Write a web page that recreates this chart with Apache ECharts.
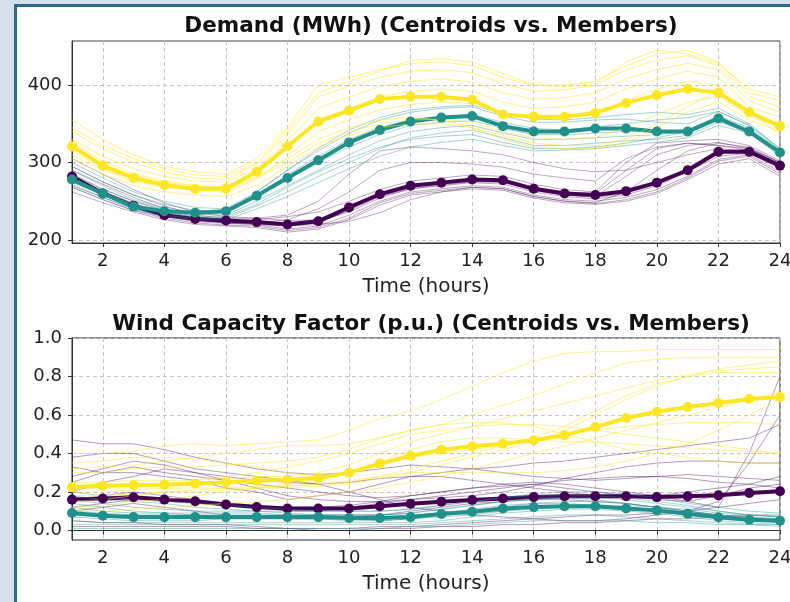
<!DOCTYPE html>
<html>
<head>
<meta charset="utf-8">
<script src="https://cdn.jsdelivr.net/npm/echarts@6/dist/echarts.min.js"></script>
<style>
  html, body { margin: 0; padding: 0; background: #d5e1ea; overflow: hidden; }
  #frame { position: absolute; left: 14px; top: 4px; width: 820px; height: 640px;
           background: #ffffff; border-left: 3px solid #2c6b82; border-top: 3px solid #2c6b82; }
  #main { position: absolute; left: 0; top: 0; width: 790px; height: 602px; }
</style>
</head>
<body>
<div id="frame"></div>
<div id="main"></div>
<script>
const hours = [1,2,3,4,5,6,7,8,9,10,11,12,13,14,15,16,17,18,19,20,21,22,23,24];
const xTicks = [2,4,6,8,10,12,14,16,18,20,22,24];
const demandTicks = [200,300,400];
const windTicks = [0,0.2,0.4,0.6,0.8,1.0];

// centroids
const demandPurple = [282,260,244,232,227,225,223,220,224,242,259,270,274,278,277,266,260,258,263,274,290,314,314,296];
const demandTeal   = [278,260,243,237,235,237,257,280,303,326,342,353,358,360,347,340,340,344,344,340,340,357,340,313];
const demandYellow = [321,296,280,271,266,266,288,321,353,367,382,385,385,381,362,359,359,364,377,387,395,390,365,347];

const windPurple = [0.16,0.166,0.172,0.16,0.151,0.135,0.121,0.114,0.114,0.114,0.125,0.139,0.149,0.158,0.166,0.173,0.177,0.177,0.177,0.173,0.177,0.182,0.194,0.203];
const windTeal   = [0.09,0.076,0.069,0.069,0.069,0.069,0.069,0.069,0.069,0.064,0.064,0.069,0.085,0.097,0.114,0.121,0.125,0.125,0.114,0.104,0.087,0.068,0.055,0.05];
const windYellow = [0.225,0.232,0.236,0.237,0.243,0.25,0.258,0.263,0.272,0.30,0.347,0.388,0.419,0.437,0.45,0.468,0.494,0.537,0.584,0.617,0.641,0.662,0.683,0.693];

// members
const demandPurpleMembers = [
  [305,285,265,248,236,230,228,225,226,240,258,268,272,276,275,265,258,255,260,272,290,312,318,300],
  [290,272,255,240,230,226,224,218,222,238,256,266,270,274,272,262,256,253,258,270,288,308,312,292],
  [275,258,242,232,226,222,220,214,218,232,250,262,266,270,268,258,252,250,255,265,282,304,310,288],
  [262,248,236,226,220,218,216,210,214,226,245,258,262,266,264,254,248,246,250,260,278,298,305,282],
  [285,265,250,238,228,224,226,230,236,250,265,276,280,284,282,272,265,262,300,325,328,330,322,302],
  [280,262,246,234,226,222,222,226,240,262,290,300,300,298,294,285,280,276,305,320,325,322,316,298],
  [270,255,240,230,224,221,220,218,220,224,235,252,262,268,266,256,250,248,262,290,315,325,320,300],
  [295,275,258,244,232,228,228,232,250,285,315,320,318,315,310,300,292,288,290,300,310,318,315,298],
  [268,252,238,228,222,219,218,212,216,228,248,260,264,268,266,256,250,247,252,262,280,302,308,285],
  [283,263,247,235,227,223,222,222,226,240,258,270,275,279,278,268,262,260,290,318,325,322,318,300],
  [278,260,245,233,226,222,221,220,224,236,254,266,271,275,274,264,258,256,282,310,322,326,318,296]
];
const demandTealMembers = [
  [300,280,262,250,242,240,262,290,315,338,355,365,370,372,360,352,352,355,356,352,350,366,348,316],
  [290,270,252,242,236,234,256,278,300,320,336,348,352,354,344,336,336,338,340,340,342,360,345,314],
  [280,262,246,238,233,232,250,270,290,310,328,340,345,348,338,330,330,332,334,336,340,356,342,312],
  [272,255,240,232,228,228,244,262,282,300,318,332,338,342,332,322,322,325,328,330,335,352,340,310],
  [285,266,250,240,235,236,262,290,318,342,358,368,372,374,364,356,355,358,362,365,362,370,350,318],
  [275,258,244,235,230,230,246,268,288,305,320,330,334,336,326,318,318,320,325,332,340,355,342,312],
  [295,275,258,246,238,238,258,284,308,330,345,355,360,362,352,344,342,346,350,355,358,366,348,318],
  [268,252,238,230,226,226,240,256,274,292,308,320,326,330,322,315,316,318,322,326,332,348,338,308]
];
const demandYellowMembers = [
  [355,330,310,295,288,285,305,345,400,410,420,428,430,425,410,400,400,405,425,440,445,430,390,380],
  [340,318,300,288,280,278,298,335,385,398,410,418,420,416,402,392,394,400,420,432,438,425,385,372],
  [330,308,292,282,276,275,292,328,370,385,398,405,408,404,390,382,384,390,408,420,428,420,380,365],
  [320,298,284,274,270,268,285,318,355,370,385,392,395,392,378,370,372,378,395,408,418,410,372,358],
  [310,290,276,268,264,262,278,308,340,355,368,375,378,376,364,356,358,364,380,395,405,400,362,350],
  [315,292,278,270,266,265,280,300,325,340,350,355,356,352,340,332,330,332,345,362,378,385,360,345],
  [325,302,286,276,270,268,282,305,330,345,355,358,355,345,330,320,318,318,325,345,365,378,355,340],
  [305,285,270,262,258,256,270,295,320,335,345,350,350,345,335,325,322,322,330,350,372,392,368,335],
  [345,322,305,292,284,282,300,340,390,405,418,432,434,430,415,400,398,402,430,445,440,428,395,385]
];

const windPurpleMembers = [
  [0.47,0.45,0.45,0.42,0.38,0.35,0.32,0.30,0.29,0.30,0.32,0.34,0.33,0.32,0.30,0.28,0.27,0.26,0.27,0.28,0.27,0.25,0.24,0.22],
  [0.33,0.30,0.30,0.28,0.26,0.22,0.20,0.16,0.18,0.20,0.24,0.28,0.30,0.32,0.33,0.35,0.36,0.38,0.40,0.42,0.44,0.46,0.48,0.55],
  [0.25,0.30,0.33,0.30,0.28,0.26,0.24,0.22,0.20,0.18,0.17,0.18,0.20,0.22,0.24,0.25,0.24,0.22,0.20,0.18,0.15,0.12,0.40,0.80],
  [0.20,0.25,0.28,0.32,0.30,0.28,0.26,0.25,0.24,0.25,0.27,0.28,0.28,0.26,0.24,0.22,0.20,0.18,0.17,0.18,0.20,0.22,0.24,0.28],
  [0.15,0.18,0.20,0.18,0.16,0.14,0.12,0.10,0.10,0.12,0.14,0.16,0.18,0.20,0.22,0.24,0.26,0.27,0.28,0.28,0.29,0.28,0.27,0.26],
  [0.10,0.12,0.14,0.12,0.10,0.08,0.07,0.06,0.06,0.07,0.08,0.10,0.12,0.14,0.15,0.16,0.16,0.15,0.14,0.12,0.10,0.08,0.07,0.05],
  [0.05,0.04,0.04,0.03,0.03,0.03,0.02,0.01,0.01,0.01,0.02,0.02,0.03,0.04,0.05,0.06,0.07,0.08,0.08,0.09,0.10,0.12,0.14,0.16],
  [0.38,0.40,0.40,0.36,0.32,0.30,0.28,0.26,0.24,0.20,0.16,0.12,0.10,0.08,0.07,0.06,0.05,0.05,0.06,0.08,0.10,0.15,0.35,0.60],
  [0.12,0.14,0.16,0.16,0.15,0.14,0.13,0.12,0.12,0.13,0.15,0.18,0.20,0.22,0.23,0.24,0.22,0.20,0.18,0.16,0.15,0.18,0.22,0.24],
  [0.02,0.02,0.02,0.02,0.02,0.02,0.01,0.01,0.00,0.00,0.01,0.01,0.02,0.02,0.03,0.03,0.04,0.04,0.05,0.06,0.06,0.07,0.08,0.08],
  [0.28,0.32,0.36,0.34,0.30,0.26,0.22,0.18,0.16,0.15,0.15,0.16,0.17,0.18,0.20,0.23,0.27,0.30,0.33,0.35,0.36,0.36,0.35,0.35]
];
const windTealMembers = [
  [0.16,0.14,0.12,0.11,0.10,0.10,0.10,0.10,0.10,0.10,0.10,0.11,0.13,0.15,0.17,0.18,0.18,0.18,0.17,0.15,0.13,0.10,0.08,0.07],
  [0.12,0.10,0.09,0.09,0.09,0.09,0.09,0.08,0.08,0.08,0.08,0.09,0.11,0.13,0.15,0.16,0.17,0.17,0.16,0.14,0.12,0.10,0.08,0.07],
  [0.08,0.07,0.06,0.06,0.06,0.06,0.06,0.06,0.06,0.05,0.05,0.06,0.08,0.10,0.12,0.14,0.15,0.15,0.14,0.12,0.10,0.08,0.06,0.05],
  [0.05,0.04,0.04,0.04,0.04,0.04,0.04,0.04,0.04,0.04,0.04,0.04,0.05,0.07,0.09,0.10,0.11,0.11,0.10,0.09,0.07,0.05,0.04,0.03],
  [0.14,0.12,0.10,0.09,0.08,0.07,0.07,0.07,0.07,0.07,0.07,0.07,0.08,0.09,0.10,0.11,0.12,0.12,0.11,0.10,0.08,0.06,0.05,0.04],
  [0.03,0.03,0.03,0.03,0.03,0.03,0.03,0.03,0.03,0.03,0.03,0.03,0.04,0.05,0.06,0.07,0.08,0.08,0.07,0.06,0.05,0.04,0.03,0.02],
  [0.10,0.09,0.08,0.08,0.08,0.08,0.08,0.08,0.08,0.08,0.08,0.09,0.11,0.13,0.15,0.17,0.17,0.16,0.14,0.12,0.10,0.08,0.06,0.06],
  [0.07,0.06,0.05,0.05,0.05,0.06,0.06,0.06,0.06,0.06,0.05,0.06,0.07,0.08,0.10,0.12,0.13,0.13,0.13,0.12,0.11,0.09,0.08,0.07],
  [0.18,0.16,0.15,0.14,0.12,0.11,0.10,0.09,0.08,0.08,0.08,0.08,0.09,0.11,0.13,0.14,0.14,0.13,0.12,0.11,0.09,0.08,0.07,0.06],
  [0.20,0.18,0.16,0.15,0.14,0.13,0.12,0.11,0.10,0.10,0.10,0.11,0.13,0.15,0.17,0.19,0.20,0.20,0.19,0.17,0.14,0.12,0.10,0.09],
  [0.01,0.01,0.01,0.01,0.01,0.01,0.01,0.01,0.01,0.01,0.01,0.02,0.02,0.03,0.04,0.05,0.05,0.05,0.05,0.04,0.04,0.03,0.03,0.03]
];
const windYellowMembers = [
  [0.40,0.40,0.41,0.44,0.45,0.44,0.45,0.46,0.47,0.52,0.58,0.62,0.68,0.75,0.82,0.88,0.92,0.93,0.93,0.94,0.94,0.94,0.94,0.94],
  [0.30,0.30,0.32,0.33,0.33,0.34,0.35,0.36,0.38,0.42,0.48,0.52,0.55,0.60,0.65,0.70,0.76,0.82,0.87,0.89,0.90,0.90,0.90,0.90],
  [0.22,0.22,0.22,0.24,0.26,0.28,0.30,0.33,0.36,0.40,0.45,0.50,0.52,0.54,0.55,0.55,0.54,0.52,0.50,0.48,0.46,0.44,0.42,0.40],
  [0.15,0.16,0.18,0.20,0.20,0.21,0.22,0.22,0.23,0.24,0.27,0.30,0.34,0.38,0.42,0.46,0.52,0.60,0.68,0.75,0.80,0.84,0.86,0.88],
  [0.10,0.10,0.11,0.12,0.13,0.14,0.15,0.16,0.18,0.20,0.22,0.25,0.28,0.32,0.36,0.40,0.44,0.48,0.52,0.56,0.60,0.64,0.68,0.72],
  [0.35,0.36,0.38,0.38,0.37,0.35,0.33,0.30,0.28,0.30,0.36,0.42,0.46,0.48,0.48,0.47,0.46,0.46,0.45,0.44,0.43,0.42,0.41,0.40],
  [0.25,0.25,0.26,0.26,0.26,0.27,0.28,0.28,0.30,0.34,0.40,0.46,0.50,0.54,0.58,0.62,0.66,0.70,0.74,0.78,0.81,0.83,0.84,0.85],
  [0.18,0.18,0.19,0.20,0.21,0.22,0.22,0.23,0.24,0.26,0.28,0.30,0.30,0.30,0.30,0.30,0.31,0.33,0.36,0.40,0.45,0.52,0.60,0.68],
  [0.32,0.33,0.34,0.36,0.38,0.40,0.42,0.44,0.44,0.45,0.48,0.52,0.55,0.56,0.56,0.54,0.50,0.46,0.42,0.40,0.38,0.36,0.35,0.35],
  [0.12,0.13,0.15,0.16,0.18,0.20,0.22,0.24,0.26,0.30,0.34,0.38,0.40,0.42,0.44,0.48,0.54,0.62,0.70,0.76,0.80,0.82,0.82,0.82],
  [0.20,0.20,0.21,0.22,0.22,0.22,0.23,0.23,0.24,0.25,0.28,0.32,0.36,0.40,0.44,0.47,0.50,0.52,0.54,0.55,0.56,0.56,0.56,0.55]
];

const PURPLE = "#440154", TEAL = "#21918c", YELLOW = "#fde725";
const FONT = "DejaVu Sans";

function pairs(vals) {
  return hours.map((h, i) => [h, vals[i]]);
}

function clusterSeries(idx, members, centroid, color, alpha) {
  const out = [];
  members.forEach((m) => {
    out.push({
      type: "line", xAxisIndex: idx, yAxisIndex: idx,
      data: pairs(m), symbol: "none", silent: true,
      lineStyle: { color: color, width: 1, opacity: alpha },
    });
  });
  out.push({
    type: "line", xAxisIndex: idx, yAxisIndex: idx,
    data: pairs(centroid), symbol: "circle", symbolSize: 10, silent: true,
    itemStyle: { color: color },
    lineStyle: { color: color, width: 4 },
  });
  return out;
}

function xAxis(idx) {
  return {
    type: "value", gridIndex: idx, min: 1, max: 24,
    name: "Time (hours)", nameLocation: "middle", nameGap: 34,
    nameTextStyle: { fontFamily: FONT, fontSize: 20, color: "#222" },
    axisLine: { show: true, lineStyle: { color: "#333" } },
    axisTick: { show: true, length: 4, customValues: xTicks, lineStyle: { color: "#333" } },
    axisLabel: { customValues: xTicks, fontFamily: FONT, fontSize: 18, color: "#222", margin: 9 },
    splitLine: { show: true, lineStyle: { color: "#c4c4c4", type: [4, 3], width: 1 } },
  };
}

function yAxis(idx, min, max, ticks, fmt) {
  return {
    type: "value", gridIndex: idx, min: min, max: max,
    axisLine: { show: true, lineStyle: { color: "#333" } },
    axisTick: { show: true, length: 4, customValues: ticks, lineStyle: { color: "#333" } },
    axisLabel: { customValues: ticks, fontFamily: FONT, fontSize: 18, color: "#222", margin: 10, formatter: fmt },
    splitLine: { show: true, lineStyle: { color: "#c4c4c4", type: [4, 3], width: 1 } },
  };
}

const chart = echarts.init(document.getElementById("main"), null, { renderer: "canvas" });

const option = {
  animation: false,
  backgroundColor: "transparent",
  title: [
    { text: "Demand (MWh) (Centroids vs. Members)", left: 426, top: 10, textAlign: "center",
      textStyle: { fontFamily: FONT, fontWeight: "bold", fontSize: 21.5, color: "#111" } },
    { text: "Wind Capacity Factor (p.u.) (Centroids vs. Members)", left: 426, top: 308, textAlign: "center",
      textStyle: { fontFamily: FONT, fontWeight: "bold", fontSize: 21.5, color: "#111" } },
  ],
  grid: [
    { left: 72, right: 10, top: 41, height: 202, outerBoundsMode: "none", show: true, borderColor: "#444", borderWidth: 1, backgroundColor: "transparent" },
    { left: 72, right: 10, top: 338, height: 202, outerBoundsMode: "none", show: true, borderColor: "#222", borderWidth: 1, backgroundColor: "transparent" },
  ],
  xAxis: [xAxis(0), xAxis(1)],
  yAxis: [
    yAxis(0, 196, 457, demandTicks, (v) => String(v)),
    yAxis(1, -0.05, 1.0, windTicks, (v) => v.toFixed(1)),
  ],
  series: [].concat(
    clusterSeries(0, demandPurpleMembers, demandPurple, PURPLE, 0.35),
    clusterSeries(0, demandTealMembers, demandTeal, TEAL, 0.4),
    clusterSeries(0, demandYellowMembers, demandYellow, YELLOW, 0.55),
    clusterSeries(1, windPurpleMembers, windPurple, PURPLE, 0.4),
    clusterSeries(1, windTealMembers, windTeal, TEAL, 0.4),
    clusterSeries(1, windYellowMembers, windYellow, YELLOW, 0.5)
  ),
};

chart.setOption(option);
</script>
</body>
</html>
